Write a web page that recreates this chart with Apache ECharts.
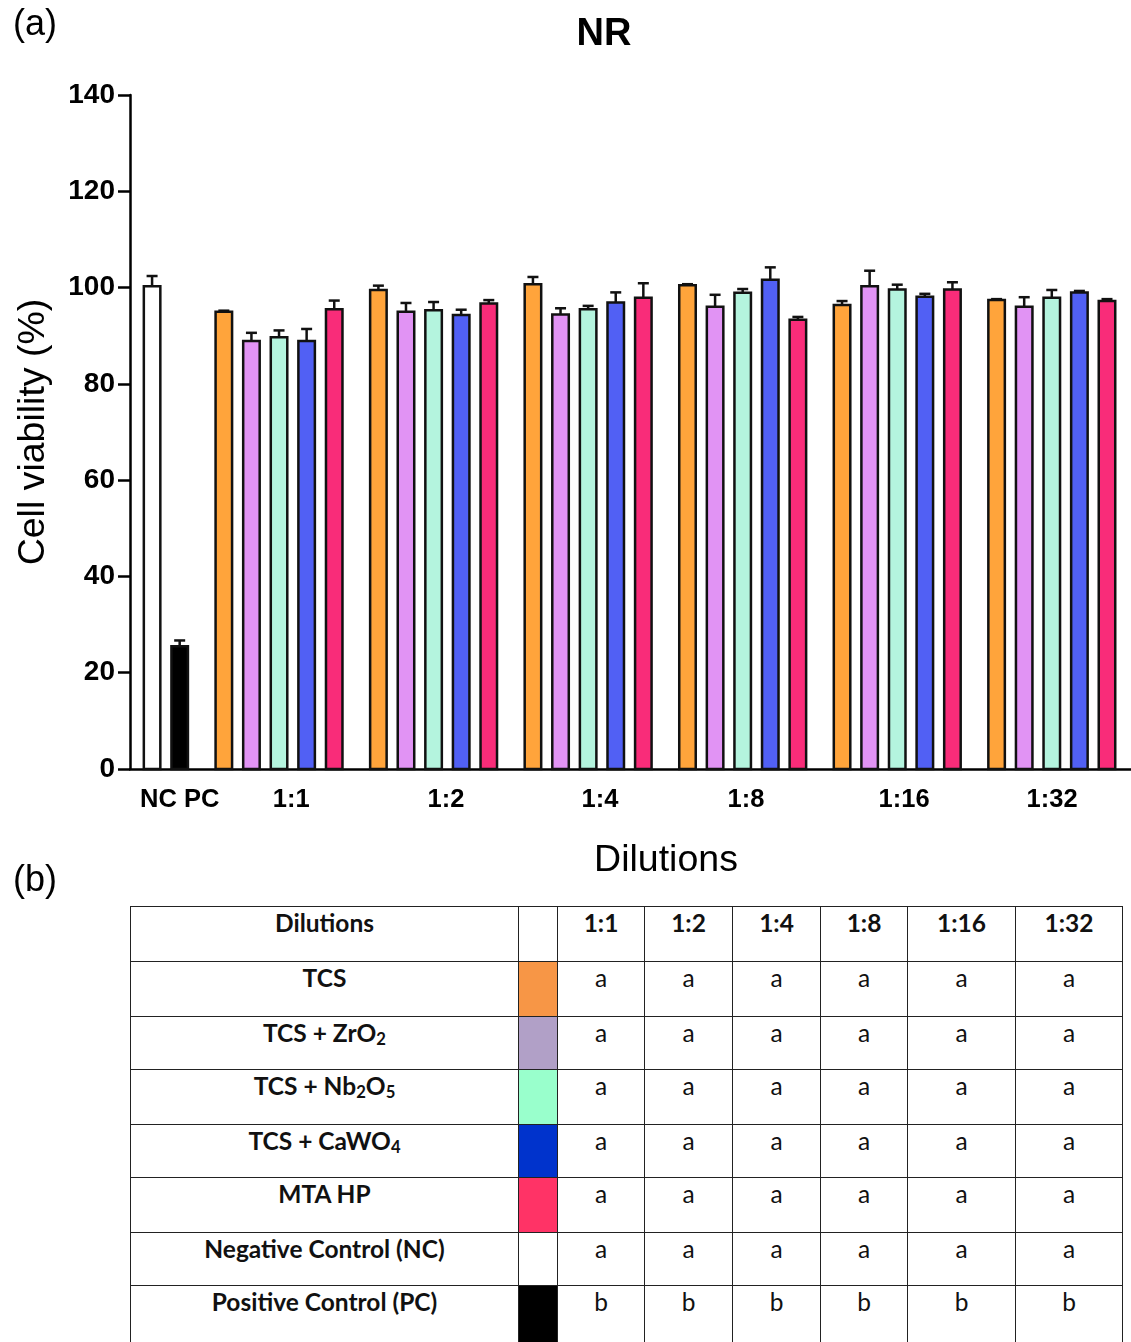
<!DOCTYPE html>
<html><head><meta charset="utf-8">
<script src="https://cdn.jsdelivr.net/npm/echarts@6/dist/echarts.min.js"></script>
<style>
html,body{margin:0;padding:0;background:#fff;width:1131px;height:1342px;overflow:hidden;}
#chart{position:absolute;left:0;top:0;width:1131px;height:900px;}
#tbl{position:absolute;left:130px;top:906px;border-collapse:collapse;font-family:Lato,'Open Sans',sans-serif;font-size:24.5px;line-height:28px;color:#111;table-layout:fixed;}
#tbl td{border:1.5px solid #222;text-align:center;vertical-align:top;padding:2px 0 0 0;box-sizing:border-box;overflow:hidden;white-space:nowrap;}
#tbl td.sw{padding:0;}
#tbl .b{font-weight:bold;}
#tbl sub{font-size:0.68em;vertical-align:-0.2em;line-height:0;}
</style></head>
<body>
<div id="chart"></div>
<table id="tbl"></table>
<script>
// ---- data ----
const dilutions = ['1:1','1:2','1:4','1:8','1:16','1:32'];
const materials = ['TCS','TCS + ZrO2','TCS + Nb2O5','TCS + CaWO4','MTA HP'];
const controls = ['NC','PC'];
const controlMean = [100.3, 25.5];
const controlErr = [2.1, 1.2];
const tcs      = [95.0, 99.5, 100.7, 100.5, 96.4, 97.4];
const tcsErr   = [0.2, 0.9, 1.5, 0.2, 0.8, 0.2];
const zro2     = [88.9, 95.0, 94.4, 96.0, 100.3, 96.0];
const zro2Err  = [1.7, 1.8, 1.3, 2.5, 3.2, 2.0];
const nb2o5    = [89.7, 95.3, 95.5, 98.9, 99.6, 97.9];
const nb2o5Err = [1.4, 1.7, 0.7, 0.8, 1.0, 1.6];
const cawo4    = [88.9, 94.3, 96.9, 101.6, 98.1, 99.0];
const cawo4Err = [2.5, 1.1, 2.1, 2.6, 0.6, 0.3];
const mta      = [95.5, 96.7, 97.9, 93.3, 99.6, 97.2];
const mtaErr   = [1.8, 0.7, 3.0, 0.6, 1.5, 0.4];
const yTicks = [0, 20, 40, 60, 80, 100, 120, 140];

// table data
const tableRows = ['TCS','TCS + ZrO<sub>2</sub>','TCS + Nb<sub>2</sub>O<sub>5</sub>','TCS + CaWO<sub>4</sub>','MTA HP','Negative Control (NC)','Positive Control (PC)'];
const tableLetters = [
  ['a','a','a','a','a','a'],
  ['a','a','a','a','a','a'],
  ['a','a','a','a','a','a'],
  ['a','a','a','a','a','a'],
  ['a','a','a','a','a','a'],
  ['a','a','a','a','a','a'],
  ['b','b','b','b','b','b']
];

// ---- styles ----
const barColors = ['#FFA43B','#E193F4','#B4F4DE','#5160F4','#F92C79'];
const controlColors = ['#FFFFFF','#000000'];
const swatchColors = ['#F79646','#B1A0C7','#99FFCC','#0033CC','#FF3366','#FFFFFF','#000000'];
const FONT = "'Liberation Sans', Arial, sans-serif";
const BAR_W = 16.5;

// ---- layout (slot units) ----
const groupStart = 2.6, groupStep = 5.6;
const labelNudge = [0.44, 0.45, 0.43, 0.12, 0.25, 0.01];
const matVals = [tcs, zro2, nb2o5, cawo4, mta];
const matErrs = [tcsErr, zro2Err, nb2o5Err, cawo4Err, mtaErr];

const barData = [];
const errData = [];
controls.forEach((c, i) => {
  barData.push({value: [i, controlMean[i]], itemStyle: {color: controlColors[i]}});
  errData.push([i, controlMean[i], controlErr[i]]);
});
dilutions.forEach((d, g) => {
  materials.forEach((m, j) => {
    const x = groupStart + g * groupStep + j;
    barData.push({value: [x, matVals[j][g]], itemStyle: {color: barColors[j]}});
    errData.push([x, matVals[j][g], matErrs[j][g]]);
  });
});

const labelPos = [1.0].concat(dilutions.map((d, g) => groupStart + g * groupStep + 2 + labelNudge[g]));
const labelTxt = ['NC PC'].concat(dilutions);

const chart = echarts.init(document.getElementById('chart'), null, {renderer: 'canvas'});
chart.setOption({
  animation: false,
  backgroundColor: '#fff',
  title: [
    {text: 'NR', left: 599, top: 11, textAlign: 'center', textStyle: {fontFamily: FONT, fontWeight: 'bold', fontSize: 38, color: '#000'}},
    {text: '(a)', left: 8, top: 2, textStyle: {fontFamily: FONT, fontWeight: 'normal', fontSize: 36, color: '#000'}},
    {text: 'Dilutions', left: 661, top: 837, textAlign: 'center', textStyle: {fontFamily: FONT, fontWeight: 'normal', fontSize: 37.5, color: '#000'}},
    {text: '(b)', left: 8, top: 858, textStyle: {fontFamily: FONT, fontWeight: 'normal', fontSize: 36, color: '#000'}}
  ],
  grid: {left: 130, top: 95, width: 1001, height: 674, containLabel: false, outerBoundsMode: 'none'},
  xAxis: {
    type: 'value', min: -0.8, max: 35.47,
    axisLine: {show: true, onZero: false, lineStyle: {color: '#000', width: 2.5}},
    axisTick: {show: false},
    splitLine: {show: false},
    axisLabel: {
      customValues: labelPos,
      margin: 18,
      fontFamily: FONT, fontWeight: 'bold', fontSize: 25.5, color: '#000',
      formatter: function (v) {
        let best = 0, bd = 1e9;
        labelPos.forEach((p, i) => { const dd = Math.abs(p - v); if (dd < bd) { bd = dd; best = i; } });
        return labelTxt[best];
      }
    }
  },
  yAxis: {
    type: 'value', min: 0, max: 140, interval: 20,
    name: 'Cell viability (%)', nameLocation: 'middle', nameGap: 77,
    nameTextStyle: {fontFamily: FONT, fontSize: 37.5, color: '#000'},
    axisLine: {show: true, onZero: false, lineStyle: {color: '#000', width: 2.5}},
    axisTick: {show: true, length: 12, lineStyle: {color: '#000', width: 2.5}},
    splitLine: {show: false},
    axisLabel: {margin: 15, fontFamily: FONT, fontWeight: 'bold', fontSize: 28, color: '#000',
      formatter: v => (yTicks.indexOf(v) >= 0 ? String(v) : '')}
  },
  series: [
    {
      type: 'custom', data: barData, z: 3,
      renderItem: function (params, api) {
        const x = api.value(0), y = api.value(1);
        const p0 = api.coord([x, 0]);
        const p1 = api.coord([x, y]);
        return {
          type: 'rect',
          shape: {x: p0[0] - BAR_W / 2, y: p1[1], width: BAR_W, height: p0[1] - p1[1]},
          style: {fill: api.visual('color'), stroke: '#111', lineWidth: 2.5}
        };
      }
    },
    {
      type: 'custom', data: errData, z: 2,
      renderItem: function (params, api) {
        const x = api.value(0), y = api.value(1), e = api.value(2);
        const p0 = api.coord([x, y]);
        const p1 = api.coord([x, y + e]);
        const cap = 5.5;
        return {
          type: 'group',
          children: [
            {type: 'line', shape: {x1: p0[0], y1: p0[1], x2: p1[0], y2: p1[1]}, style: {stroke: '#111', lineWidth: 2.5}},
            {type: 'line', shape: {x1: p1[0] - cap, y1: p1[1], x2: p1[0] + cap, y2: p1[1]}, style: {stroke: '#111', lineWidth: 2.5}}
          ]
        };
      }
    }
  ]
});

// ---- table ----
const colW = [388, 39, 87, 88, 88, 87, 108, 107];
const rowH = [55, 55, 53, 55, 53, 55, 53, 60];
const tbl = document.getElementById('tbl');
let html = '<colgroup>' + colW.map(w => '<col style="width:' + w + 'px">').join('') + '</colgroup>';
html += '<tr><td class="b" style="height:' + rowH[0] + 'px">Dilutions</td><td class="sw"></td>';
dilutions.forEach(d => { html += '<td class="b">' + d + '</td>'; });
html += '</tr>';
tableRows.forEach((r, i) => {
  html += '<tr><td class="b" style="height:' + rowH[i + 1] + 'px">' + r + '</td><td class="sw" style="background:' + swatchColors[i] + '"></td>';
  tableLetters[i].forEach(l => { html += '<td>' + l + '</td>'; });
  html += '</tr>';
});
tbl.innerHTML = html;
</script>
</body></html>
